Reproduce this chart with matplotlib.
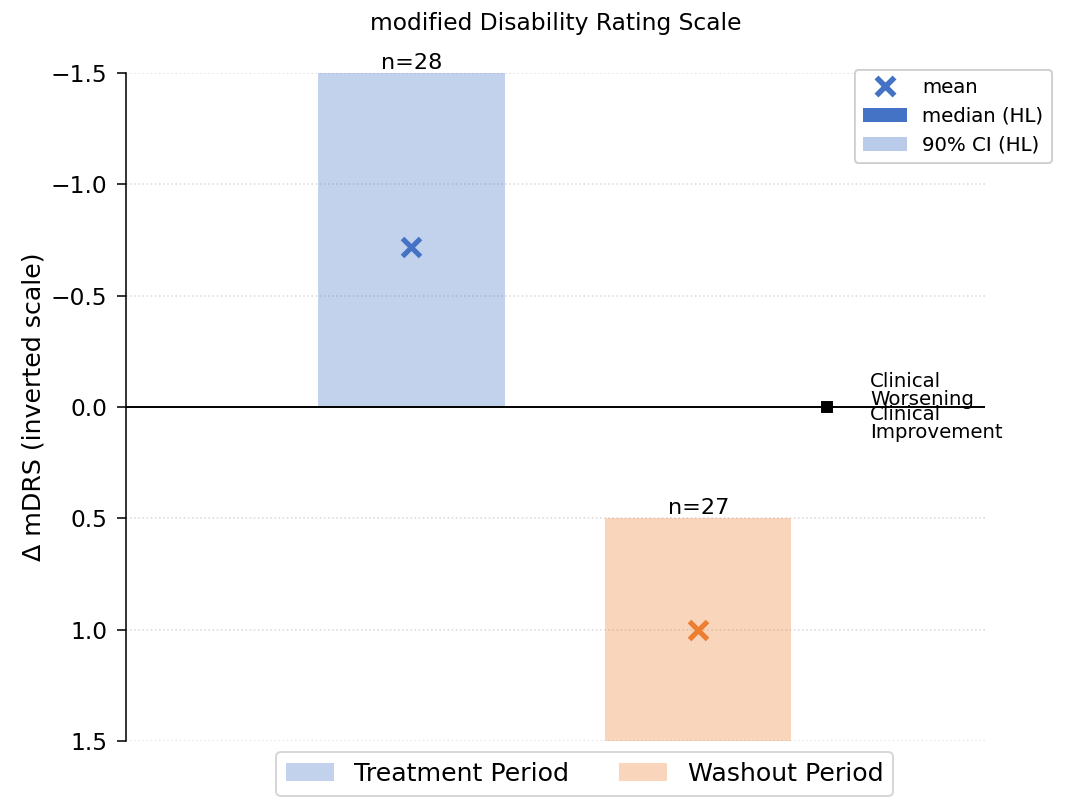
import matplotlib
matplotlib.use("Agg")
import matplotlib.pyplot as plt
from matplotlib.patches import Patch
from matplotlib.lines import Line2D

# Data
periods = ["Treatment Period", "Washout Period"]
n_values = [28, 27]
means = [-0.72, 1.0]
ci_low = [0.0, 0.5]
ci_high = [-1.5, 1.5]
yticks = [-1.5, -1.0, -0.5, 0.0, 0.5, 1.0, 1.5]

blue = "#4472c4"
orange = "#ed7d31"
colors = [blue, orange]

fig = plt.figure(figsize=(1073 / 140, 797 / 140), dpi=140)
ax = fig.add_axes([0.1174, 0.0703, 0.8006, 0.8381])

xpos = list(range(len(periods)))
width = 0.65
for i in xpos:
    ax.bar(xpos[i], ci_high[i] - ci_low[i], bottom=ci_low[i], width=width,
           color=colors[i], alpha=0.32, linewidth=0, zorder=2)
    ax.plot(xpos[i], means[i], marker="x", color=colors[i], markersize=9,
            markeredgewidth=2.6, linestyle="none", zorder=4)
    top = min(ci_low[i], ci_high[i])
    ax.text(xpos[i], top, f"n={n_values[i]}", ha="center", va="bottom",
            fontsize=11.5, clip_on=False)

ax.axhline(0, color="black", linewidth=1, zorder=3)
ax.plot([1.45], [0], marker="s", color="black", markersize=5, linestyle="none", zorder=5)
ax.text(1.6, 0.01, "Clinical\nWorsening", ha="left", va="bottom", fontsize=10.2, linespacing=0.95)
ax.text(1.6, -0.01, "Clinical\nImprovement", ha="left", va="top", fontsize=10.2, linespacing=0.95)

ax.set_xlim(-0.995, 2.0)
ax.set_ylim(1.5, -1.5)
ax.set_yticks(yticks)
ax.set_xticks([])
ax.grid(axis="y", linestyle=":", color="#dadada", linewidth=0.8, zorder=0)
ax.set_axisbelow(True)
for s in ["top", "right", "bottom"]:
    ax.spines[s].set_visible(False)
ax.tick_params(axis="y", labelsize=12, length=4.5, pad=5)
ax.set_ylabel("Δ mDRS (inverted scale)", fontsize=13, labelpad=3)
ax.set_title("modified Disability Rating Scale", fontsize=12, pad=22)

handles = [
    Line2D([], [], marker="x", color=blue, linestyle="none", markersize=9, markeredgewidth=2.8),
    Patch(facecolor=blue, edgecolor="none"),
    Patch(facecolor=blue, alpha=0.32, edgecolor="none"),
]
leg1 = ax.legend(handles, ["mean", "median (HL)", "90% CI (HL)"], loc="upper right",
                 bbox_to_anchor=(1.0774, 1.0045), borderaxespad=0, fontsize=10.2,
                 handlelength=2.2)
ax.add_artist(leg1)

handles2 = [Patch(facecolor=c, alpha=0.32, edgecolor="none") for c in colors]
fig.legend(handles2, periods, loc="lower center", ncol=2, fontsize=13,
           bbox_to_anchor=(0.5447, 0.001), borderaxespad=0, handlelength=1.9,
           columnspacing=2.0)

fig.savefig("out.png", dpi=140)
